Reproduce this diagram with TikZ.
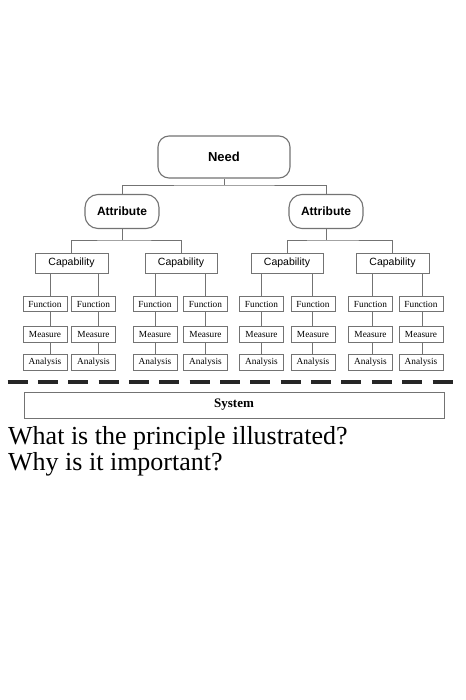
\documentclass[tikz,border=0pt]{standalone}
\usepackage{fontspec}
\setmainfont{Liberation Serif}
\newfontfamily\sansf{Liberation Sans}
\begin{document}
\begin{tikzpicture}[x=1pt,y=-1pt,
  conn/.style={draw=black!55,line width=0.9},
  needbox/.style={draw=black!55,line width=1.1,rounded corners=11,minimum width=132,minimum height=42,inner sep=0,font=\sansf\bfseries\fontsize{13}{13}\selectfont},
  attrbox/.style={draw=black!55,line width=1.1,rounded corners=13,minimum width=74,minimum height=34,inner sep=0,font=\sansf\bfseries\fontsize{12}{12}\selectfont},
  capbox/.style={draw=black!55,line width=0.9,minimum width=72,minimum height=20,inner sep=0,font=\sansf\fontsize{10.5}{10.5}\selectfont},
  smallbox/.style={draw=black!55,line width=0.9,minimum width=44,minimum height=15.5,inner sep=0,font=\fontsize{9.3}{9.3}\selectfont},
  sysbox/.style={draw=black!55,line width=0.9,minimum width=420,minimum height=26,inner sep=0,font=\bfseries\fontsize{13}{13}\selectfont},
  qtext/.style={anchor=base west,inner sep=0,font=\fontsize{26}{26}\selectfont}]
\useasboundingbox[fill=white] (0,0) rectangle (465,700);
% top levels
\node[needbox] (need) at (224,157) {Need};
\node[attrbox] (a1) at (122,211.5) {Attribute};
\node[attrbox] (a2) at (326,211.5) {Attribute};
\node[capbox,minimum width=73] (c1) at (71.5,263) {Capability};
\node[capbox] (c2) at (181,263) {Capability};
\node[capbox] (c3) at (287,263) {Capability};
\node[capbox,minimum width=73] (c4) at (392.5,263) {Capability};
% connectors need -> attributes
\coordinate (nj) at (224,185);
\draw[conn] (need.south) -- (nj);
\draw[conn] (a1.north) |- (nj) -| (a2.north);
% attributes -> capabilities
\coordinate (j1) at (122,240);
\coordinate (j2) at (326,240);
\draw[conn] (a1.south) -- (j1);
\draw[conn] (c1.north) |- (j1) -| (c2.north);
\draw[conn] (a2.south) -- (j2);
\draw[conn] (c3.north) |- (j2) -| (c4.north);
% function / measure / analysis columns
\foreach \i/\x/\s/\c in {1/45/5/c1, 2/93.5/4.5/c1, 3/155/0/c2, 4/205.5/-0.5/c2, 5/261.5/-0.5/c3, 6/313/-1/c3, 7/370.5/1.5/c4, 8/421/1/c4}{
  \node[smallbox] (f\i) at (\x,304) {Function};
  \node[smallbox,minimum height=16] (m\i) at (\x,334) {Measure};
  \node[smallbox,minimum height=16] (an\i) at (\x,362.5) {Analysis};
  \draw[conn] ([xshift=\s]f\i.north |- \c.south) -- ([xshift=\s]f\i.north);
  \draw[conn] ([xshift=\s]f\i.south) -- ([xshift=\s]m\i.north);
  \draw[conn] ([xshift=\s]m\i.south) -- ([xshift=\s]an\i.north);
}
% dashed separator
\coordinate (dl) at (7.5,382);
\coordinate (dr) at (460,382);
\draw[line width=3.3,dash pattern=on 20 off 10.36,black!85] (dl) -- (dr);
% system
\node[sysbox] (sys) at (234,405) {System};
% questions
\node[qtext] (q1) at (8,444) {What is the principle illustrated?};
\node[qtext] (q2) at (8,470) {Why is it important?};
\end{tikzpicture}
\end{document}
